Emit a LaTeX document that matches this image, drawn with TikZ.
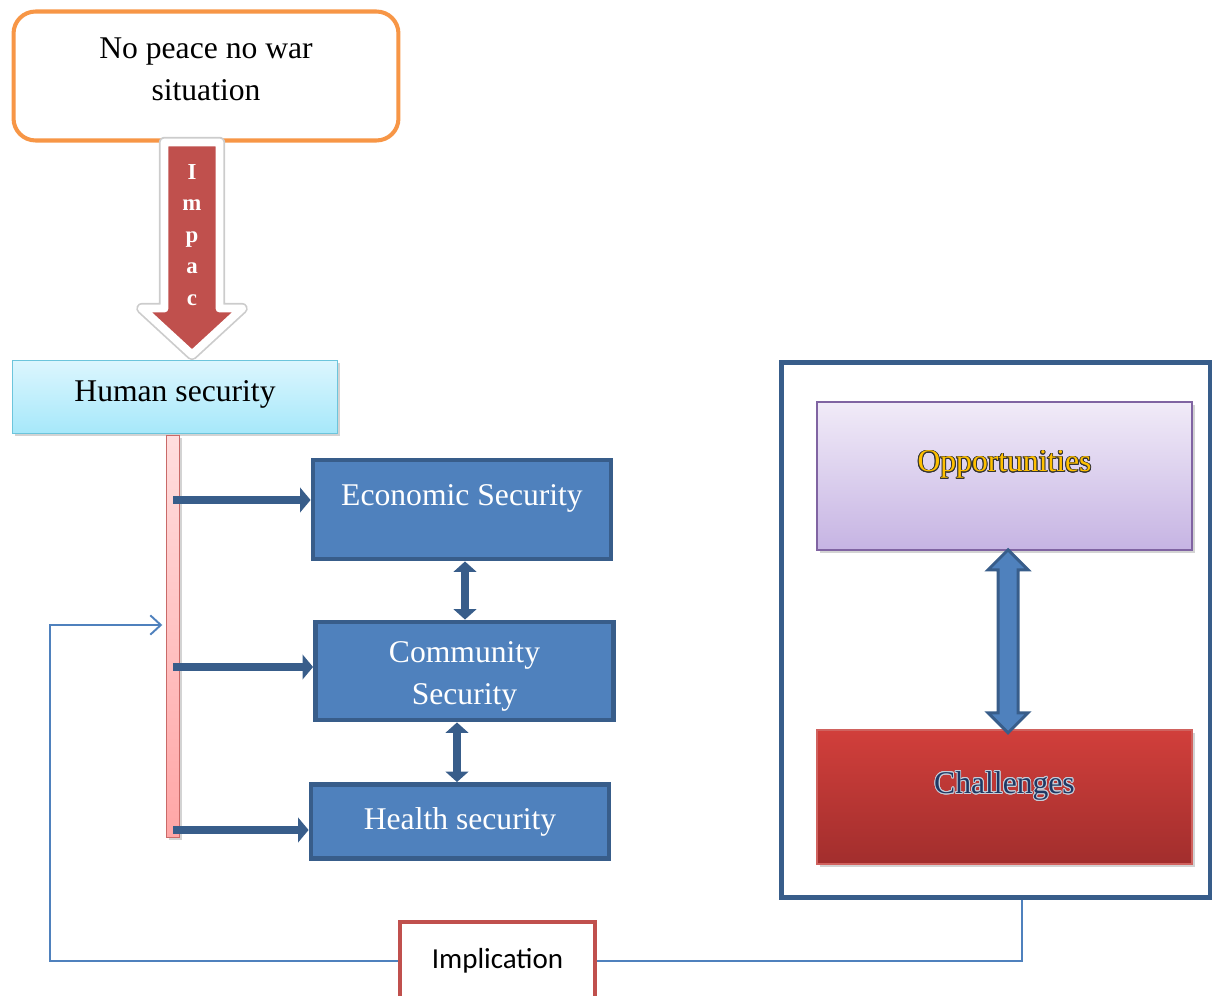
\documentclass[tikz,border=0pt]{standalone}
\usepackage{fontspec}
\setmainfont{Liberation Serif}
\newfontfamily\calibri{Carlito}
\usepackage{contour}
\contourlength{0.5pt}
\usetikzlibrary{arrows.meta,shadows,calc}

\definecolor{peach}{HTML}{F79646}
\definecolor{brick}{HTML}{C0504D}
\definecolor{secblue}{HTML}{4F81BD}
\definecolor{secdark}{HTML}{385D8A}
\definecolor{skytop}{HTML}{DCF6FE}
\definecolor{skybot}{HTML}{A6E8FA}
\definecolor{skyline}{HTML}{6CC5DC}
\definecolor{lavtop}{HTML}{F1EBF8}
\definecolor{lavbot}{HTML}{C6B4E3}
\definecolor{lavline}{HTML}{8064A2}
\definecolor{chaltop}{HTML}{D13F3B}
\definecolor{chalbot}{HTML}{A22E2D}
\definecolor{challine}{HTML}{D0625E}
\definecolor{gold}{HTML}{FFC000}
\definecolor{navy}{HTML}{1F3864}

% outline of the impact arrow, starting below the top box
\newcommand{\impactpath}{($(top.south)+(-41.5,0)$) -- ++(55,0) -- ++(0,166) -- ++(22.5,0)
    -- ++(-50,46) -- ++(-50,-46) -- ++(22.5,0) -- cycle}

\begin{document}
\begin{tikzpicture}[x=0.02cm,y=-0.02cm,
    every node/.style={font=\fontsize{18}{24}\selectfont},
    shade/.style={drop shadow={shadow xshift=1.6pt,shadow yshift=-1.6pt,opacity=.35}},
    raised/.style={text depth=16.6pt},
    secbox/.style={rectangle,draw=secdark,line width=2.8pt,fill=secblue,text=white,
        align=center,minimum width=5.96cm},
    secarrow/.style={secdark,line width=5pt,-{Triangle[length=6pt,width=14pt]}},
    twoway/.style={secdark,line width=4.5pt,{Triangle[length=6pt,width=13pt]}-{Triangle[length=6pt,width=13pt]}},
    backline/.style={secblue,line width=1.1pt}]
    \useasboundingbox (0,0) rectangle (1214,996);

    % top situation
    \node[draw=peach,line width=2.3pt,rounded corners=0.44cm,fill=white,align=center,text depth=8pt,
        minimum width=7.7cm,minimum height=2.58cm] (top) at (206,76) {No peace no war\\situation};

    % impact arrow
    \path[fill=black!20,draw=black!20,line width=6.5pt,line join=round,shift={(1.5,3)}] \impactpath;
    \path[draw=white,line width=4.5pt,line join=round,fill=brick] \impactpath;
    \node[text=white,align=center,font=\fontsize{13}{18}\bfseries] (impact) at (192,235) {I\\m\\p\\a\\c};

    \node[draw=skyline,line width=1pt,top color=skytop,bottom color=skybot,shade,text depth=7.3pt,
        minimum width=6.5cm,minimum height=1.46cm] (hs) at (175,397) {Human security};

    % red bar
    \node[draw=brick!85,line width=0.8pt,top color=red!13,bottom color=red!35,shade,
        minimum width=0.26cm,minimum height=8.04cm,inner sep=0pt] (bar) at (173,636.5) {};

    \node[secbox,raised,minimum height=1.98cm] (eco) at (462,509.5) {Economic Security};
    \node[secbox,text height=42pt,minimum height=1.96cm] (com) at (464.5,671) {Community\\Security};
    \node[secbox,minimum height=1.48cm] (hea) at (460,821.5) {Health security};

    \draw[secarrow] (bar.center |- 0,500) -- (eco.west |- 0,500);
    \draw[secarrow] (bar.center |- 0,667) -- (com.west |- 0,667);
    \draw[secarrow] (bar.center |- 0,830) -- (hea.west |- 0,830);
    \draw[twoway] (eco.south -| 465,0) -- (com.north -| 465,0);
    \draw[twoway] (com.south -| 457,0) -- (hea.north -| 457,0);

    % right frame
    \node[draw=secdark,line width=2.8pt,minimum width=8.58cm,minimum height=10.72cm] (frame) at (995.5,630) {};
    \node[draw=lavline,line width=1pt,top color=lavtop,bottom color=lavbot,shade,raised,
        minimum width=7.5cm,minimum height=2.96cm,text=gold] (opp) at (1004.5,476) {\contour{black!80}{Opportunities}};
    \node[draw=challine,line width=1pt,top color=chaltop,bottom color=chalbot,shade,raised,
        minimum width=7.5cm,minimum height=2.68cm,text=navy] (chal) at (1004.5,797) {\contour{white!75!navy}{\textcolor{navy}{Challenges}}};
    \path[draw=secdark,line width=1.7pt,fill=secblue,line join=miter]
        ($(opp.south)+(3.5,-1)$) -- ++(20,20) -- ++(-10,0) -- ++(0,143) -- ++(10,0) -- ++(-20,20)
        -- ++(-20,-20) -- ++(10,0) -- ++(0,-143) -- ++(-10,0) -- cycle;

    % implication loop
    \node[draw=brick,line width=2.3pt,fill=white,minimum width=3.9cm,minimum height=1.56cm,
        font=\calibri\fontsize{16.5}{20}\selectfont] (imp) at (497.5,961) {Implication};
    \coordinate (loop) at (50,625);
    \draw[backline] (imp.east) -| ($(frame.south)+(26.5,0)$);
    \draw[backline,-{Straight Barb[length=6pt,width=11pt]}] (imp.west) -| (loop) -- ([xshift=-2pt]bar.west |- loop);
\end{tikzpicture}
\end{document}
